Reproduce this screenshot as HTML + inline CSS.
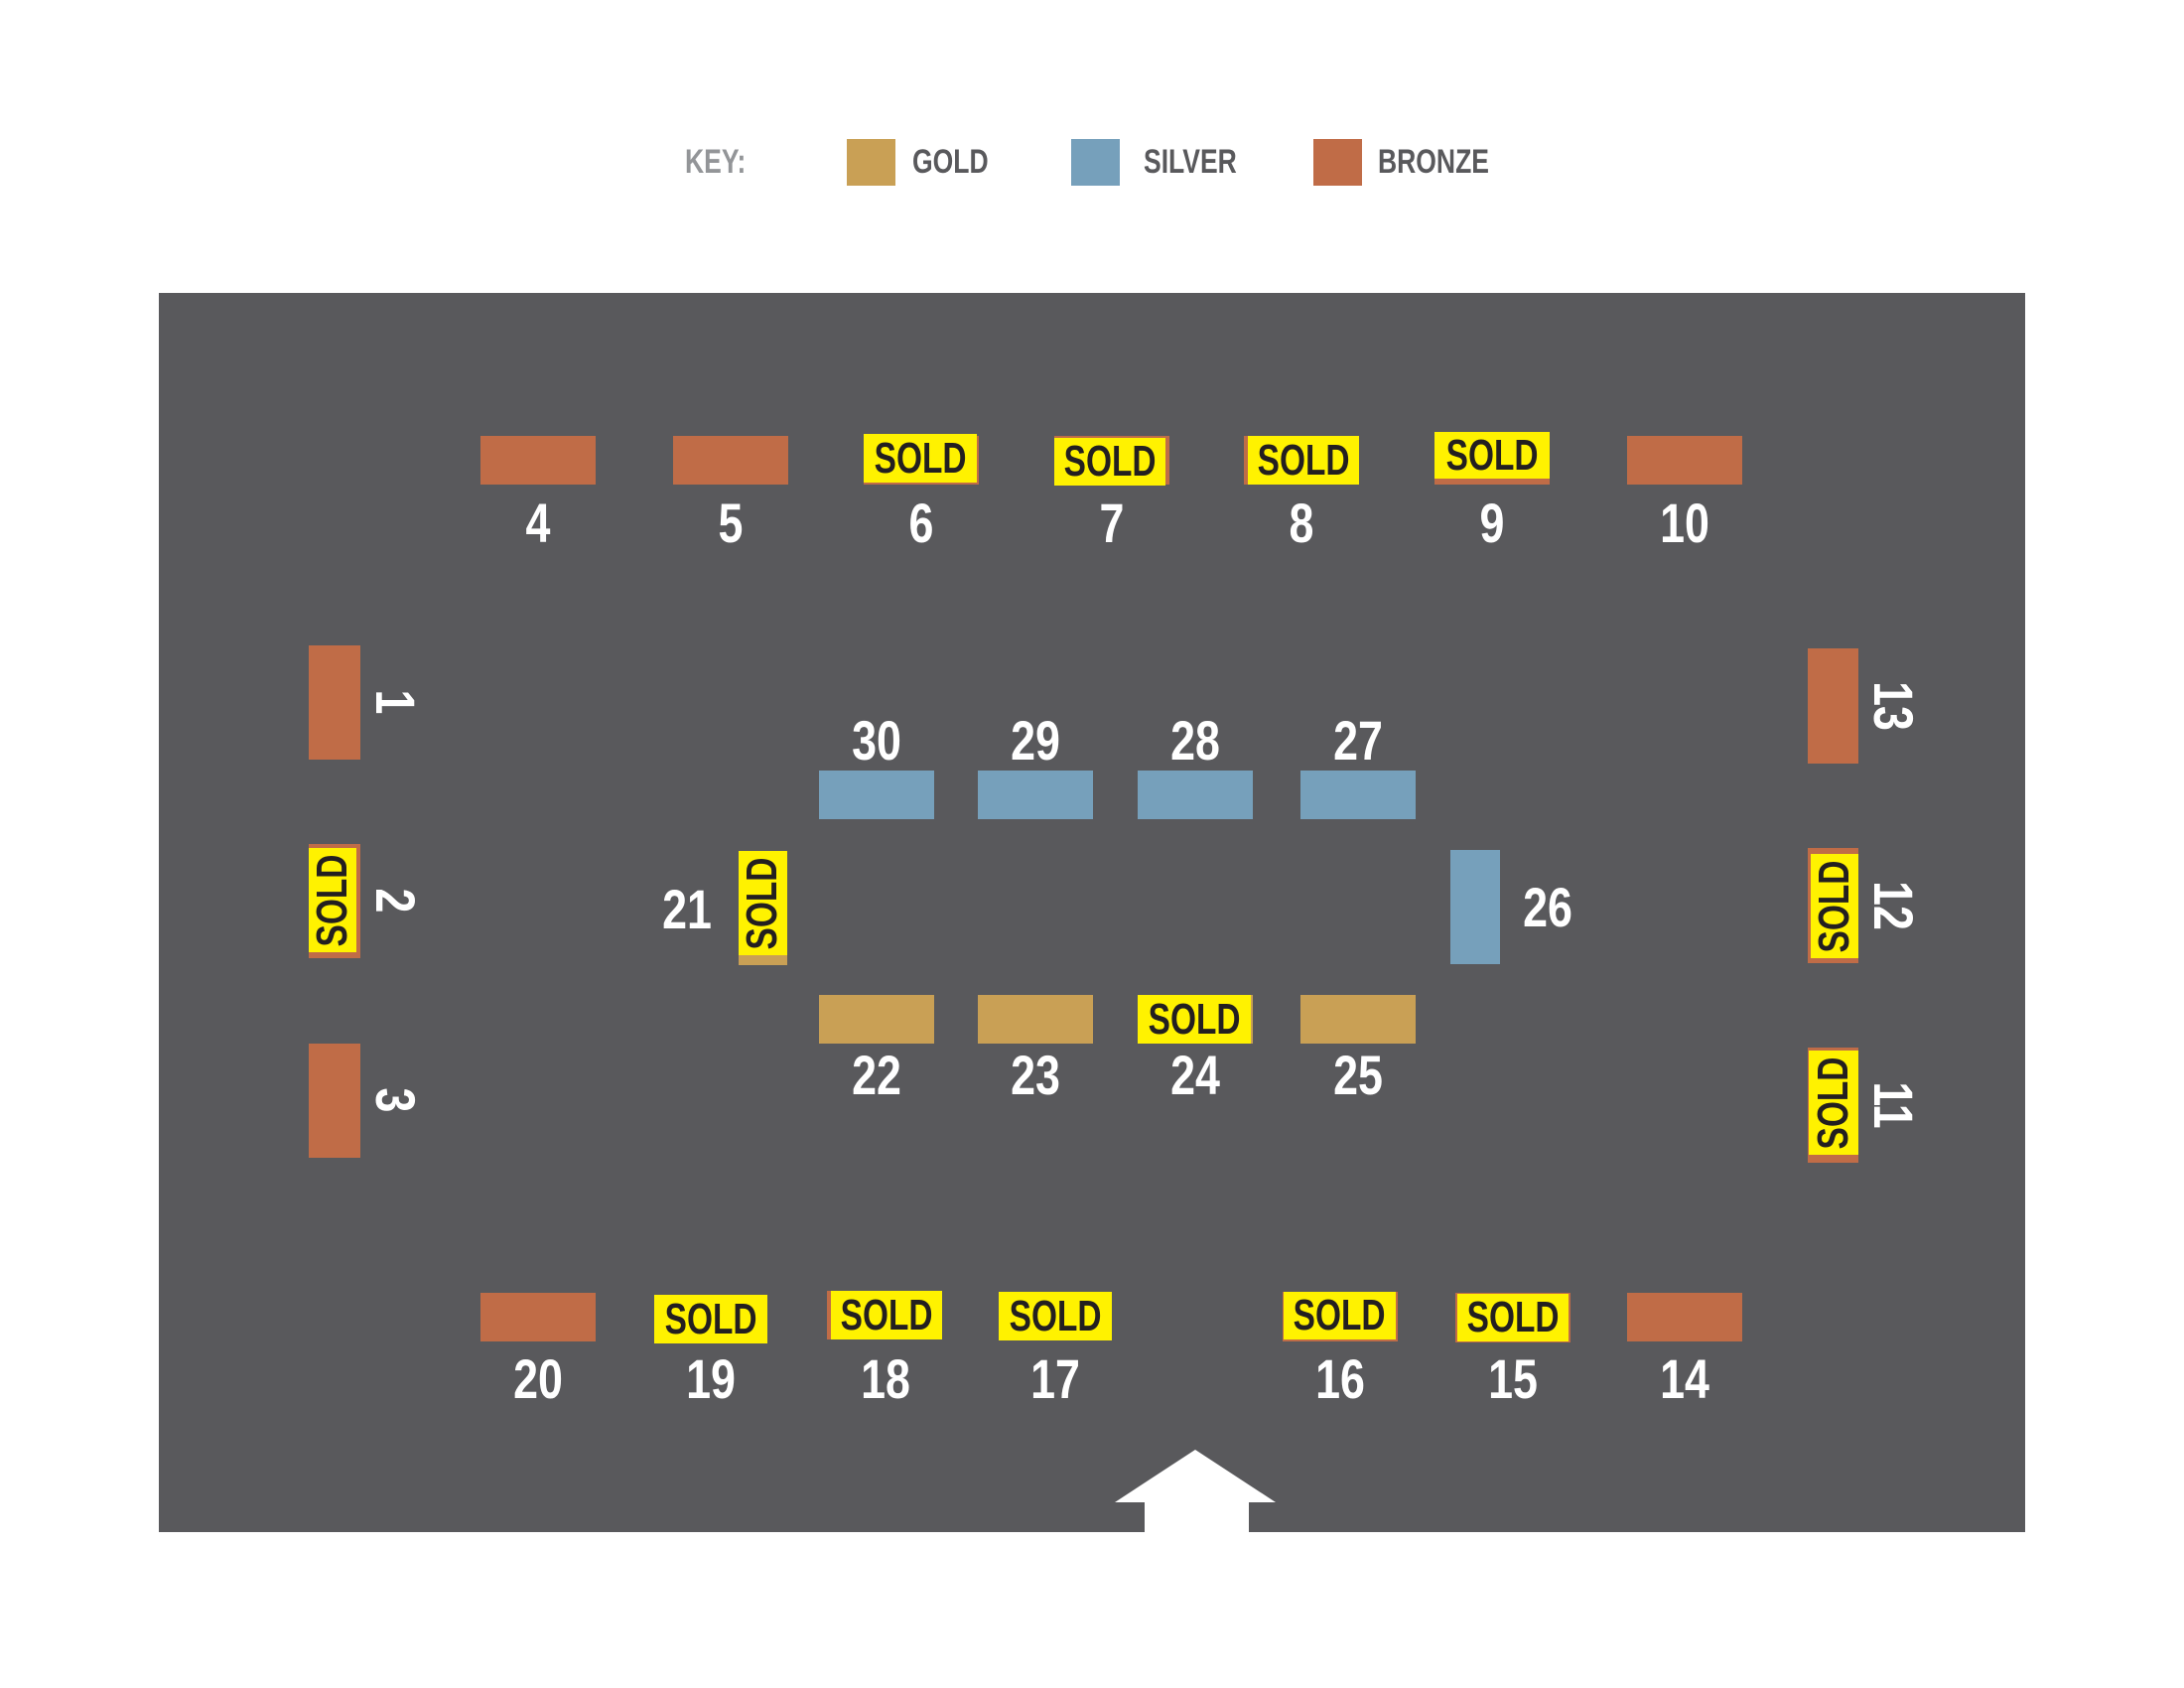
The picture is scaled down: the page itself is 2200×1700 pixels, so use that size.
<!DOCTYPE html>
<html><head><meta charset="utf-8"><style>
html,body{margin:0;padding:0}
body{width:2200px;height:1700px;position:relative;background:#fff;overflow:hidden;font-family:"Liberation Sans Narrow","Liberation Sans",sans-serif;font-weight:bold}
.a{position:absolute}
.br{background:#c06c47}.go{background:#c9a055}.si{background:#76a0bb}
.sold{position:absolute;background:#fff200;color:#231f20;font-size:44px;line-height:1;display:flex;align-items:center;justify-content:center}
.sold span{display:inline-block;transform:scaleX(.76);white-space:nowrap}
.lab{position:absolute;color:#fff;font-size:56px;line-height:56px;width:120px;text-align:center;transform:translate(-50%,-50%) scaleX(.8)}
.vs{position:absolute;background:#fff200;color:#231f20;font-size:44px;line-height:1;display:flex;align-items:center;justify-content:center}
.vs span{transform:rotate(-90deg) scaleX(.76);display:block;white-space:nowrap}
.lab.rl{transform:translate(-50%,-50%) rotate(90deg) scaleX(.8)}
.key{position:absolute;font-size:34px;line-height:34px;color:#59595c;transform:scaleX(.78);transform-origin:left center}
</style></head><body>
<div class="key" style="left:690px;top:146px;color:#939598">KEY:</div>
<div class="a go" style="left:853px;top:140px;width:49px;height:47px"></div>
<div class="key" style="left:919px;top:146px">GOLD</div>
<div class="a si" style="left:1079px;top:140px;width:49px;height:47px"></div>
<div class="key" style="left:1152px;top:146px">SILVER</div>
<div class="a br" style="left:1323px;top:140px;width:49px;height:47px"></div>
<div class="key" style="left:1388px;top:146px">BRONZE</div>

<div class="a" style="left:160px;top:295px;width:1880px;height:1248px;background:#59595c"></div>

<div class="a br" style="left:484px;top:439px;width:116px;height:49px"></div>
<div class="a br" style="left:678px;top:439px;width:116px;height:49px"></div>
<div class="a br" style="left:870px;top:439px;width:116px;height:49px"></div>
<div class="sold" style="left:870px;top:437px;width:114px;height:49px"><span>SOLD</span></div>
<div class="a br" style="left:1062px;top:439px;width:116px;height:49px"></div>
<div class="sold" style="left:1062px;top:441px;width:112px;height:48px"><span>SOLD</span></div>
<div class="a br" style="left:1253px;top:439px;width:116px;height:49px"></div>
<div class="sold" style="left:1257px;top:439px;width:112px;height:49px"><span>SOLD</span></div>
<div class="a br" style="left:1445px;top:439px;width:116px;height:49px"></div>
<div class="sold" style="left:1445px;top:435px;width:116px;height:47px"><span>SOLD</span></div>
<div class="a br" style="left:1639px;top:439px;width:116px;height:49px"></div>
<div class="lab" style="left:542px;top:527px">4</div>
<div class="lab" style="left:736px;top:527px">5</div>
<div class="lab" style="left:928px;top:527px">6</div>
<div class="lab" style="left:1120px;top:527px">7</div>
<div class="lab" style="left:1311px;top:527px">8</div>
<div class="lab" style="left:1503px;top:527px">9</div>
<div class="lab" style="left:1697px;top:527px">10</div>

<div class="a br" style="left:311px;top:650px;width:52px;height:115px"></div>
<div class="a br" style="left:311px;top:850px;width:52px;height:115px"></div>
<div class="vs" style="left:311px;top:854px;width:48px;height:105px"><span>SOLD</span></div>
<div class="a br" style="left:311px;top:1051px;width:52px;height:115px"></div>
<div class="lab rl" style="left:398px;top:707px">1</div>
<div class="lab rl" style="left:398px;top:907px">2</div>
<div class="lab rl" style="left:398px;top:1108px">3</div>

<div class="a br" style="left:1821px;top:653px;width:51px;height:116px"></div>
<div class="a br" style="left:1821px;top:854px;width:51px;height:116px"></div>
<div class="vs" style="left:1824px;top:860px;width:48px;height:105px"><span>SOLD</span></div>
<div class="a br" style="left:1821px;top:1055px;width:51px;height:116px"></div>
<div class="vs" style="left:1822px;top:1058px;width:50px;height:105px"><span>SOLD</span></div>
<div class="lab rl" style="left:1907px;top:711px">13</div>
<div class="lab rl" style="left:1907px;top:912px">12</div>
<div class="lab rl" style="left:1907px;top:1113px">11</div>

<div class="a si" style="left:825px;top:776px;width:116px;height:49px"></div>
<div class="a si" style="left:985px;top:776px;width:116px;height:49px"></div>
<div class="a si" style="left:1146px;top:776px;width:116px;height:49px"></div>
<div class="a si" style="left:1310px;top:776px;width:116px;height:49px"></div>
<div class="lab" style="left:883px;top:746px">30</div>
<div class="lab" style="left:1043px;top:746px">29</div>
<div class="lab" style="left:1204px;top:746px">28</div>
<div class="lab" style="left:1368px;top:746px">27</div>

<div class="a go" style="left:744px;top:857px;width:49px;height:115px"></div>
<div class="vs" style="left:744px;top:857px;width:49px;height:105px"><span>SOLD</span></div>
<div class="lab" style="left:692px;top:916px">21</div>
<div class="a si" style="left:1461px;top:856px;width:50px;height:115px"></div>
<div class="lab" style="left:1559px;top:914px">26</div>

<div class="a go" style="left:825px;top:1002px;width:116px;height:49px"></div>
<div class="a go" style="left:985px;top:1002px;width:116px;height:49px"></div>
<div class="a go" style="left:1146px;top:1002px;width:116px;height:49px"></div>
<div class="sold" style="left:1146px;top:1002px;width:114px;height:49px"><span>SOLD</span></div>
<div class="a go" style="left:1310px;top:1002px;width:116px;height:49px"></div>
<div class="lab" style="left:883px;top:1083px">22</div>
<div class="lab" style="left:1043px;top:1083px">23</div>
<div class="lab" style="left:1204px;top:1083px">24</div>
<div class="lab" style="left:1368px;top:1083px">25</div>

<div class="a br" style="left:484px;top:1302px;width:116px;height:49px"></div>
<div class="sold" style="left:659px;top:1304px;width:114px;height:49px"><span>SOLD</span></div>
<div class="a br" style="left:833px;top:1300px;width:116px;height:49px"></div>
<div class="sold" style="left:837px;top:1300px;width:112px;height:49px"><span>SOLD</span></div>
<div class="sold" style="left:1006px;top:1301px;width:114px;height:49px"><span>SOLD</span></div>
<div class="a br" style="left:1292px;top:1301px;width:116px;height:50px"></div>
<div class="sold" style="left:1293px;top:1301px;width:113px;height:48px"><span>SOLD</span></div>
<div class="a br" style="left:1466px;top:1302px;width:116px;height:50px"></div>
<div class="sold" style="left:1468px;top:1303px;width:112px;height:48px"><span>SOLD</span></div>
<div class="a br" style="left:1639px;top:1302px;width:116px;height:49px"></div>
<div class="lab" style="left:542px;top:1389px">20</div>
<div class="lab" style="left:716px;top:1389px">19</div>
<div class="lab" style="left:892px;top:1389px">18</div>
<div class="lab" style="left:1063px;top:1389px">17</div>
<div class="lab" style="left:1350px;top:1389px">16</div>
<div class="lab" style="left:1524px;top:1389px">15</div>
<div class="lab" style="left:1697px;top:1389px">14</div>

<svg class="a" style="left:0;top:0" width="2200" height="1700"><polygon points="1204,1460 1285,1513 1258,1513 1258,1544 1153,1544 1153,1513 1123,1513" fill="#fff"/></svg>
</body></html>
